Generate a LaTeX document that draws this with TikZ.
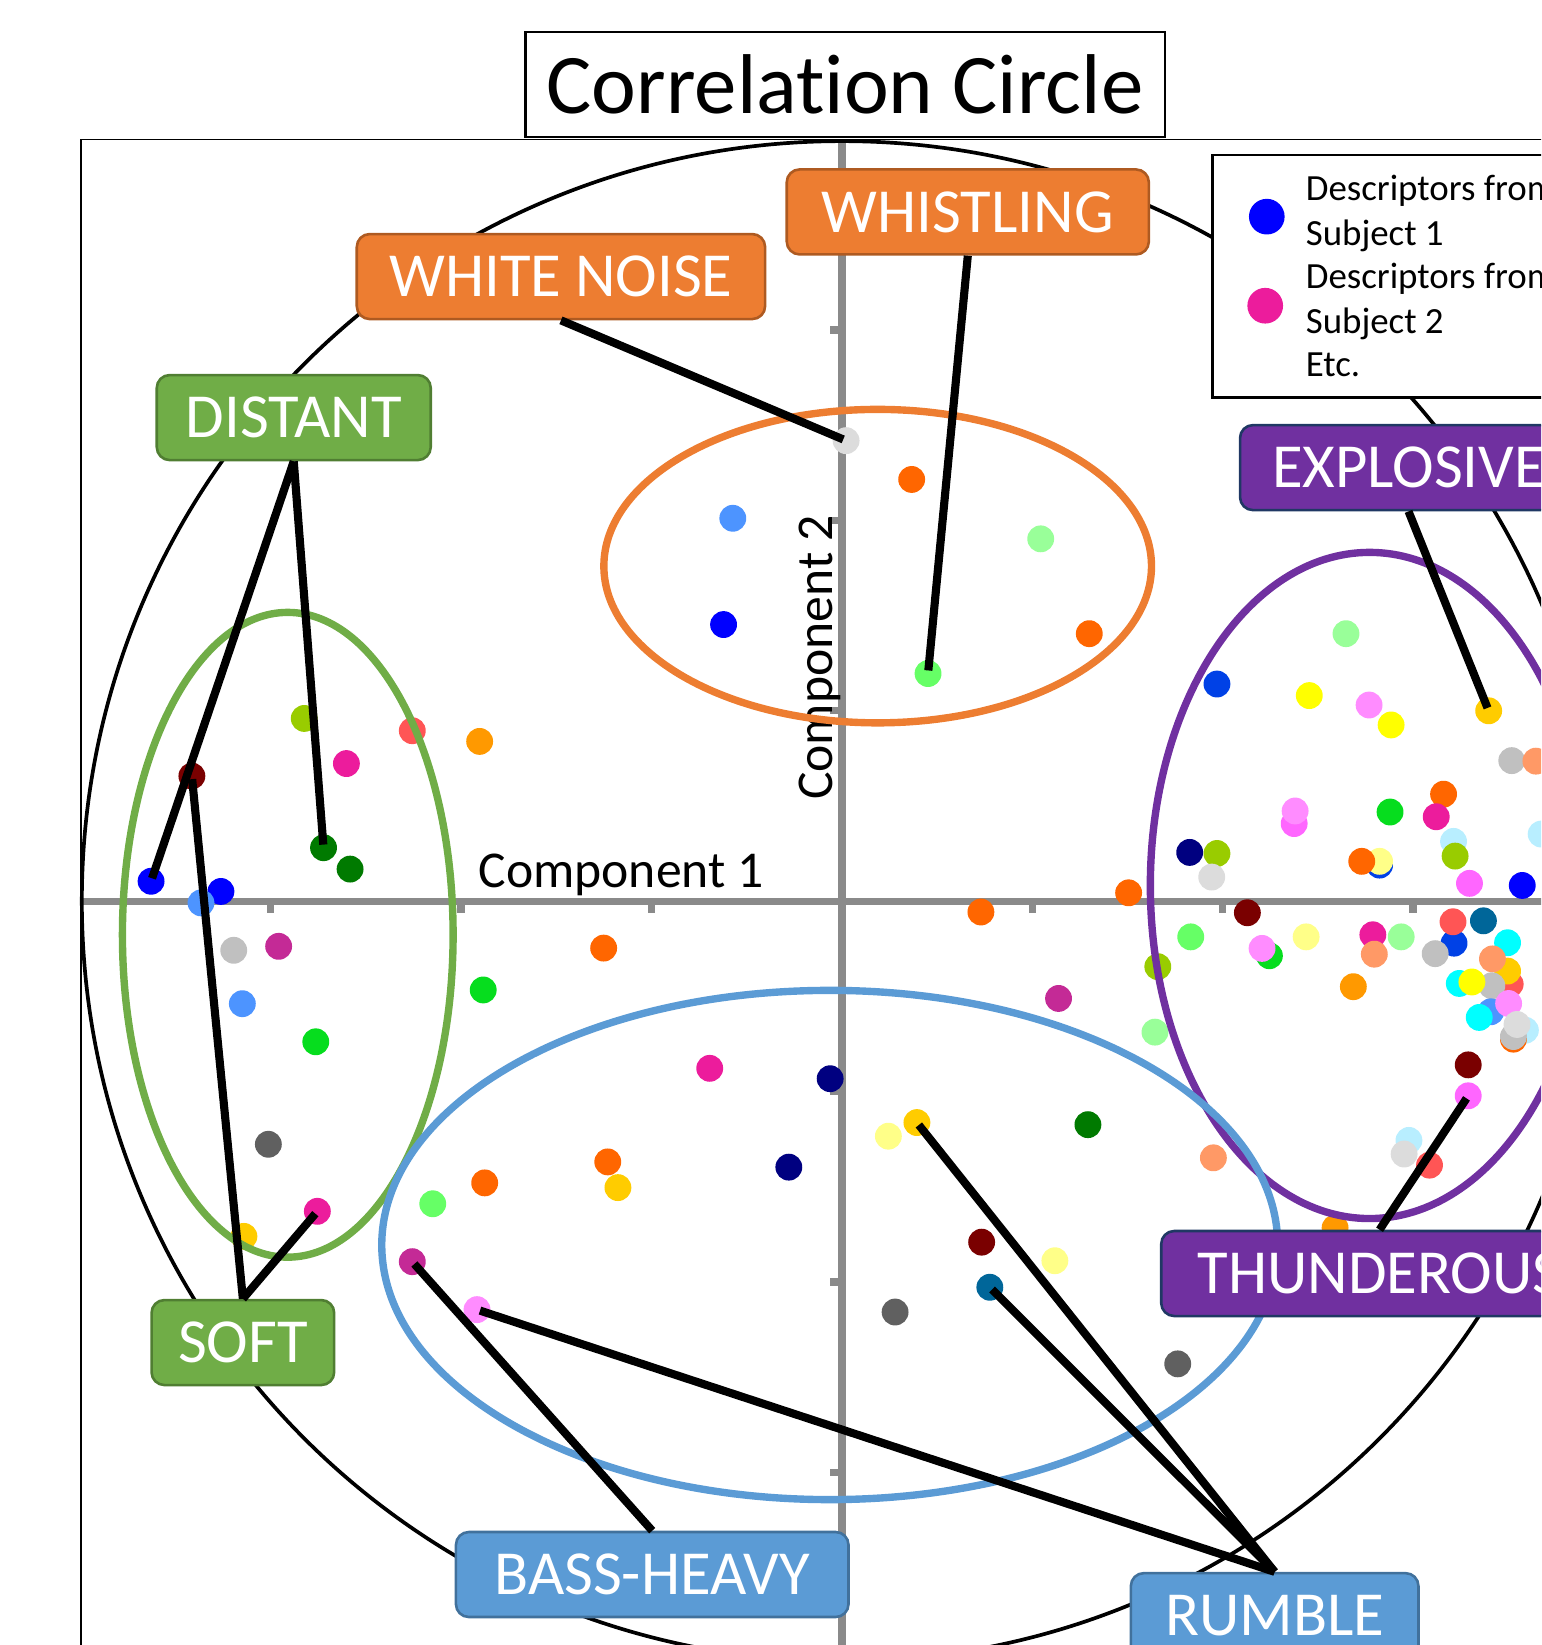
\documentclass[tikz,border=0pt]{standalone}
\usepackage{fontspec}
\setmainfont{Carlito}[Ligatures=NoCommon]
% point colours
\definecolor{dBlue}{HTML}{0000FF}
\definecolor{dRoyal}{HTML}{0041E6}
\definecolor{dSky}{HTML}{4D94FF}
\definecolor{dMagenta}{HTML}{EC1C9C}
\definecolor{dPlum}{HTML}{C42A96}
\definecolor{dPink}{HTML}{FF8CFF}
\definecolor{dHotPink}{HTML}{FF66FF}
\definecolor{dOrange}{HTML}{FF6600}
\definecolor{dAmber}{HTML}{FF9900}
\definecolor{dGold}{HTML}{FFCC00}
\definecolor{dYellow}{HTML}{FFFF00}
\definecolor{dCream}{HTML}{FFFF88}
\definecolor{dSalmon}{HTML}{FF9966}
\definecolor{dCoral}{HTML}{FF5555}
\definecolor{dMaroon}{HTML}{7A0000}
\definecolor{dMint}{HTML}{99FF99}
\definecolor{dLime}{HTML}{66FF66}
\definecolor{dGreen}{HTML}{06DD1E}
\definecolor{dForest}{HTML}{007A00}
\definecolor{dOlive}{HTML}{99CC00}
\definecolor{dNavy}{HTML}{000080}
\definecolor{dTeal}{HTML}{006699}
\definecolor{dCyan}{HTML}{00FFFF}
\definecolor{dIce}{HTML}{B8EEFF}
\definecolor{dSilver}{HTML}{C0C0C0}
\definecolor{dLight}{HTML}{DCDCDC}
\definecolor{dGrey}{HTML}{606060}
\definecolor{dAxis}{HTML}{8A8A8A}
% group colours
\definecolor{labOrange}{HTML}{ED7D31}
\definecolor{labOrangeEdge}{HTML}{AE5A21}
\definecolor{labGreen}{HTML}{70AD47}
\definecolor{labGreenEdge}{HTML}{507E32}
\definecolor{labPurple}{HTML}{7030A0}
\definecolor{labPurpleEdge}{HTML}{203864}
\definecolor{labBlue}{HTML}{5B9BD5}
\definecolor{labBlueEdge}{HTML}{41719C}
\begin{document}
\begin{tikzpicture}[x=0.01cm,y=-0.01cm,
  axisline/.style={draw=dAxis,line width=2pt},
  link/.style={line width=2.2pt,shorten >=-3pt},
  grouprim/.style={line width=2pt},
  blob/.style={circle,inner sep=0pt,minimum size=0.256cm},
  lab/.style={rounded corners=3.5pt,line width=0.7pt,text=white,inner sep=0pt,minimum height=0.81cm,font=\fontsize{17}{20}\selectfont},
  orangelab/.style={lab,fill=labOrange,draw=labOrangeEdge},
  greenlab/.style={lab,fill=labGreen,draw=labGreenEdge},
  purplelab/.style={lab,fill=labPurple,draw=labPurpleEdge},
  bluelab/.style={lab,fill=labBlue,draw=labBlueEdge}]
\useasboundingbox (0,0) rectangle (1469,1568);
\clip (0,0) rectangle (1469,1568);
% frame, axes and unit circle
\draw[line width=0.4pt] (77,133) rectangle (1600,1700);
\draw[axisline] (77,859) -- (1600,859);
\draw[axisline] (802.5,133) -- (802.5,1700);
\foreach \t in {258,439.5,621,984,1165.5,1347} \draw[axisline] (\t,859) -- (\t,870);
\foreach \t in {314.5,496,677.5,1040.5,1222,1403.5} \draw[axisline] (802.5,\t) -- (791,\t);
\draw[line width=1pt] (802.5,859) circle (724.5);
\node[anchor=base,font=\fontsize{14}{17}\selectfont] (comp1) at (592,845.6) {Component 1};
\node[anchor=base,rotate=90,font=\fontsize{14}{17}\selectfont] (comp2) at (794,626.5) {Component 2};
% points
\foreach \px/\py/\c in {869/457/dOrange,698.5/494/dSky,992/513.6/dMint,689.7/595.3/dBlue,1038.3/604/dOrange,
  290/684.8/dOlive,393/696.5/dCoral,457.2/706.7/dAmber,330.2/727.8/dMagenta,333.7/828.4/dForest,
  210.6/849.7/dBlue,191.6/860.6/dSky,222.8/905.8/dSilver,265.6/902/dPlum,231/956.7/dSky,301/993/dGreen,
  255.8/1090.7/dGrey,232.5/1178.5/dGold,460.6/943.6/dGreen,575.4/903.7/dOrange,
  676.5/1018.3/dMagenta,791.3/1028.2/dNavy,751.9/1112.5/dNavy,412.5/1147.4/dLime,462/1127.5/dOrange,
  579.3/1107.5/dOrange,589/1132/dGold,846.8/1083/dCream,1009/951.7/dPlum,1037/1072/dForest,
  935.7/1184/dMaroon,1005.5/1201.7/dCream,853.2/1250.6/dGrey,1122.6/1300/dGrey,1156.6/1103.6/dSalmon,
  935/869.3/dOrange,1075.8/851/dOrange,1103.6/921.4/dOlive,1100.9/983.8/dMint,1272.6/1170.4/dAmber,
  1283/604/dMint,1160/652/dRoyal,1248/663/dYellow,1305/672/dPink,1326/691/dYellow,1441/725/dSilver,
  1464/725.5/dSalmon,1376/757/dOrange,1369/778.5/dMagenta,1325/774/dGreen,1233.6/785/dHotPink,
  1234.5/773/dPink,1385.5/802/dIce,1387/816/dOlive,1469/795/dIce,1134/812.5/dNavy,1160/813.5/dOlive,
  1155/836/dLight,1315/824.6/dRoyal,1315/821/dCream,1298/821/dOrange,1400.7/842/dHotPink,1451/844/dBlue,
  1189/870/dMaroon,1135/893/dLime,1245/893/dCream,1308.6/891/dMagenta,1310/909.5/dSalmon,1335.6/893/dMint,
  1386/899/dRoyal,1385/878.6/dCoral,1368/909/dSilver,1414/877.7/dTeal,1210/911/dGreen,1203/904/dPink,
  1437/898.6/dCyan,1439.5/938/dCoral,1437/925.6/dGold,1422.6/914/dSalmon,1422/939.6/dSilver,
  1391/937.4/dCyan,1403/936/dYellow,1290/940.5/dAmber,1421/964.4/dSky,1438/956.5/dPink,1410/969.8/dCyan,
  1454/982/dIce,1442.6/990.5/dOrange,1442.6/988/dSilver,1446/976.5/dLight,1399.5/1015/dMaroon,
  1343/1087/dIce,1338.4/1100/dLight,1362.6/1110.6/dCoral}
  \fill[\c] (\px,\py) circle (12.8);
\node[blob,fill=dLight] (pnoise) at (806.5,420) {};
\node[blob,fill=dLime] (pwhistle) at (884.6,642) {};
\node[blob,fill=dBlue] (pdistA) at (144,840) {};
\node[blob,fill=dForest] (pdistB) at (308.4,808) {};
\node[blob,fill=dMaroon] (psoftA) at (182.9,739.7) {};
\node[blob,fill=dMagenta] (psoftB) at (302.5,1154.6) {};
\node[blob,fill=dPlum] (pbass) at (393,1202.6) {};
\node[blob,fill=dPink] (prumA) at (454.7,1248.3) {};
\node[blob,fill=dGold] (prumB) at (874,1070) {};
\node[blob,fill=dTeal] (prumC) at (943.5,1227) {};
\node[blob,fill=dGold] (pexpl) at (1419,677.5) {};
\node[blob,fill=dHotPink] (pthund) at (1399.5,1044.5) {};
% groups
\draw[grouprim,labOrange] (836.6,539.6) ellipse (261 and 149.4);
\draw[grouprim,labGreen] (274.3,891) ellipse (157.6 and 307.3);
\draw[grouprim,labPurple] (1305.5,844) ellipse (209 and 317.5);
\draw[grouprim,labBlue] (790.9,1186.7) ellipse (427 and 242.7);
% legend
\draw[line width=0.6pt,fill=white] (1155.7,147.8) rectangle (1620,378.8);
\fill[dBlue] (1207.5,206.5) circle (17);
\fill[dMagenta] (1206,291.4) circle (17);
\node[anchor=base west,inner sep=0pt,font=\fontsize{10}{12}\selectfont] (legA) at (1244,190.7) {Descriptors from};
\node[anchor=base west,inner sep=0pt,font=\fontsize{10}{12}\selectfont] (legB) at (1244,233.6) {Subject 1};
\node[anchor=base west,inner sep=0pt,font=\fontsize{10}{12}\selectfont] (legC) at (1244,274.9) {Descriptors from};
\node[anchor=base west,inner sep=0pt,font=\fontsize{10}{12}\selectfont] (legD) at (1244,317.8) {Subject 2};
\node[anchor=base west,inner sep=0pt,font=\fontsize{10}{12}\selectfont] (legE) at (1244,359) {Etc.};
% title
\node[draw,line width=0.6pt,fill=white,minimum width=6.09cm,minimum height=0.998cm,font=\fontsize{23}{28}\selectfont] (title) at (805.5,80.4) {Correlation Circle};
% labels
\node[orangelab,minimum width=3.45cm] (whistle) at (922.5,202) {WHISTLING};
\node[orangelab,minimum width=3.89cm] (wnoise) at (534.7,263.6) {WHITE NOISE};
\node[greenlab,minimum width=2.61cm] (distant) at (280,398) {DISTANT};
\node[purplelab,minimum width=3.21cm] (explo) at (1342.6,445.7) {EXPLOSIVE};
\node[purplelab,minimum width=4.16cm] (thund) at (1315,1213.9) {THUNDEROUS};
\node[greenlab,minimum width=1.74cm] (soft) at (231.5,1279.7) {SOFT};
\node[bluelab,minimum width=3.74cm] (bass) at (621.7,1500.8) {BASS-HEAVY};
\node[bluelab,minimum width=2.74cm] (rumble) at (1215,1540) {RUMBLE};
% connectors
\draw[link] (wnoise.south) -- (pnoise);
\draw[link] (whistle.south) -- (pwhistle);
\draw[link] (distant.south) -- (pdistA);
\draw[link] (distant.south) -- (pdistB);
\draw[link] (soft.north) -- (psoftA);
\draw[link] (soft.north) -- (psoftB);
\draw[link] (bass.north) -- (pbass);
\draw[link] (rumble.north) -- (prumA);
\draw[link] (rumble.north) -- (prumB);
\draw[link] (rumble.north) -- (prumC);
\draw[link] (explo.south) -- (pexpl);
\draw[link] (thund.north) -- (pthund);
\end{tikzpicture}
\end{document}
